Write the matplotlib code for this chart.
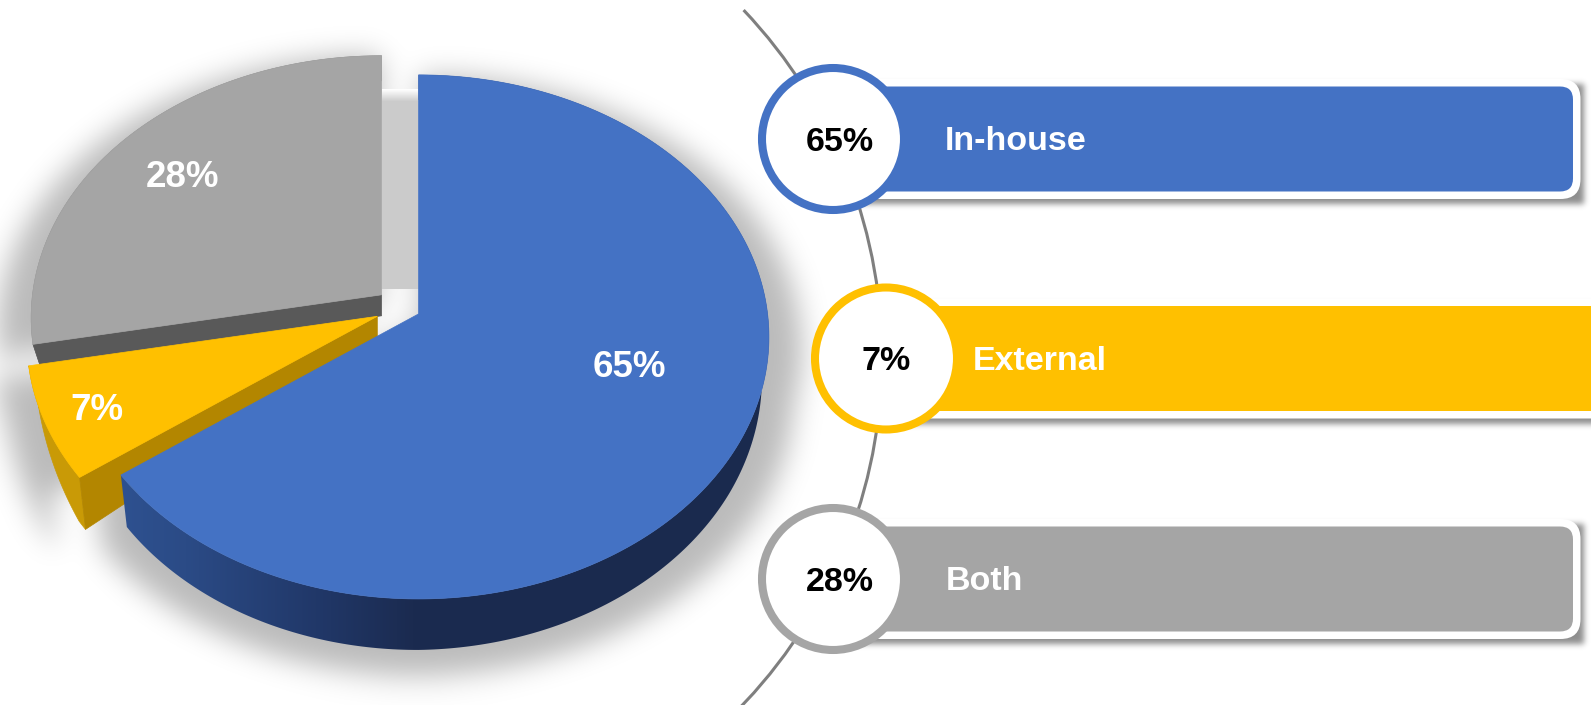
import numpy as np
import matplotlib.pyplot as plt
from matplotlib.patches import Polygon, FancyBboxPatch, Circle, Arc
from matplotlib.path import Path
from matplotlib.colors import LinearSegmentedColormap

plt.rcParams['font.family'] = ['Liberation Sans', 'DejaVu Sans']

# data
labels = ["In-house", "External", "Both"]
shares = [65, 7, 28]
colors = ["#4472C4", "#FFC000", "#A5A5A5"]
rim_colors = [None, "#C99A06", "#8C8C8C"]        # None -> gradient
radial_colors = ["#2F5597", "#B38600", "#595959"]

W, H = 1591, 705
fig = plt.figure(figsize=(W / 100, H / 100), dpi=100)
ax = fig.add_axes([0, 0, 1, 1])
ax.axis('off')

# ---- pie geometry (fake 3d, perspective ellipse) ----
cx0, cy0 = 403, 308
RX, RY, PERSP = 349, 260, 0.0878
VDEPTH = 21
explode = [0.05, 0.08, 0.08]
label_r = [0.624, 0.849, 0.768]
label_shift = [9.3, 0, 0.4]


def proj(c, u, v):
    s = 1.0 / (1.0 + PERSP * v)
    return c[0] + RX * u * s, c[1] - RY * v * s


def rim_depth(phi):
    phi = np.mod(phi, 360)
    return np.interp(phi, [0, 30, 90, 180, 192, 214, 270, 330, 360],
                     [40, 36, 25, 21, 21, 52, 51, 45, 40])


def blur(mask, sigma):
    def kmat(n):
        i = np.arange(n)
        k = np.exp(-0.5 * ((i[:, None] - i[None, :]) / sigma) ** 2)
        return k / k.sum(axis=1, keepdims=True)
    return kmat(mask.shape[0]) @ mask @ kmat(mask.shape[1]).T


def shadow_image(polys, x0, x1, y0, y1, step, sigma, alpha, z):
    xs = np.arange(x0, x1, step) + step / 2
    ys = np.arange(y0, y1, step) + step / 2
    gx, gy = np.meshgrid(xs, ys)
    pts = np.column_stack([gx.ravel(), gy.ravel()])
    m = np.zeros(len(pts))
    for p in polys:
        m = np.maximum(m, Path(p).contains_points(pts))
    m = blur(m.reshape(gx.shape), sigma / step)
    img = np.zeros(gx.shape + (4,))
    img[..., 3] = np.clip(m, 0, 1) * alpha
    ax.imshow(img, extent=(x0, x1, y1, y0), origin='upper',
              interpolation='bilinear', zorder=z)


bounds = []
start = 90.0
for s in shares:
    bounds.append((start, start - 360 * s / 100))
    start -= 360 * s / 100

centers = []
for (a0, a1), e in zip(bounds, explode):
    m = np.radians((a0 + a1) / 2)
    centers.append(proj((cx0, cy0), e * np.cos(m), e * np.sin(m)))

geo = []
for i in range(len(shares)):
    a0, a1 = bounds[i]
    c = centers[i]
    phi = np.linspace(a0, a1, 300)
    tx, ty = proj(c, np.cos(np.radians(phi)), np.sin(np.radians(phi)))
    bx = tx - (tx - c[0]) * 0.02
    by = ty + rim_depth(phi)
    top = np.column_stack([np.r_[c[0], tx], np.r_[c[1], ty]])
    rim = np.column_stack([np.r_[tx, bx[::-1]], np.r_[ty, by[::-1]]])
    faces = []
    if np.cos(np.radians(a0)) < -1e-6:
        faces.append(np.array([c, (tx[0], ty[0]), (bx[0], by[0]), (c[0], c[1] + VDEPTH)]))
    if np.cos(np.radians(a1)) > 1e-6:
        faces.append(np.array([c, (tx[-1], ty[-1]), (bx[-1], by[-1]), (c[0], c[1] + VDEPTH)]))
    geo.append(dict(top=top, rim=rim, faces=faces))

# soft shadow under the pie
sh_polys = []
for g in geo:
    for p in [g['top'], g['rim']]:
        q = p.copy()
        q[:, 0] = cx0 + (q[:, 0] - cx0) * 1.09
        q[:, 1] = 70 + (q[:, 1] - 70) * 1.045
        sh_polys.append(q)
shadow_image(sh_polys, -60, 860, 0, 706, 2, 14, 0.27, 0)

# light back wall in the gap between gray and blue
gx0 = centers[2][0]
gx1 = centers[0][0]
gtop = geo[0]['top'][1:, 1].min() + 14
gap = Polygon([(gx0, gtop), (gx1, gtop), (gx1, centers[0][1] + 20),
               (gx0, centers[1][1] + 25)], closed=True, fc='none', ec='none', zorder=1)
ax.add_patch(gap)
gcm = LinearSegmentedColormap.from_list('g', ['#FFFFFF', '#CBCBCB', '#CBCBCB'])
gim = ax.imshow(np.linspace(0, 1, 200)[:, None], cmap=gcm, extent=(gx0, gx1, gtop + 200, gtop),
                origin='upper', aspect='auto', zorder=1, vmin=0, vmax=0.12)
gim.set_clip_path(gap)

side_cm = LinearSegmentedColormap.from_list(
    'side', [(0, '#2E5190'), (0.1, '#2B4B86'), (0.3, '#213869'),
             (0.45, '#1B2B50'), (1, '#1A2A4E')])

z = 2
for i in [2, 1, 0]:
    g = geo[i]
    if rim_colors[i] is None:
        rp = Polygon(g['rim'], closed=True, fc='none', ec='none', zorder=z)
        ax.add_patch(rp)
        im = ax.imshow(np.linspace(0, 1, 256)[None, :], cmap=side_cm,
                       extent=(120, 770, 700, 0), aspect='auto', zorder=z)
        im.set_clip_path(rp)
    else:
        ax.add_patch(Polygon(g['rim'], closed=True, fc=rim_colors[i],
                             ec=rim_colors[i], lw=0.5, zorder=z))
    for f in g['faces']:
        ax.add_patch(Polygon(f, closed=True, fc=radial_colors[i],
                             ec=radial_colors[i], lw=0.5, zorder=z + 0.5))
    ax.add_patch(Polygon(g['top'], closed=True, fc=colors[i], ec=colors[i],
                         lw=0.5, zorder=z + 1))
    a0, a1 = bounds[i]
    la = np.radians((a0 + a1) / 2 + label_shift[i])
    lx, ly = proj(centers[i], label_r[i] * np.cos(la), label_r[i] * np.sin(la))
    ax.text(lx, ly + 13, f"{shares[i]}%", color='white', fontsize=26.5,
            fontweight='bold', ha='center', va='baseline', zorder=z + 2)
    z += 3

# ---- right side: arc, bars, circles ----
ax.add_patch(Arc((378, 357), 1008, 1008, theta1=-43.5, theta2=46,
                 color='#7F7F7F', lw=2.2, zorder=20))

row_x = [833, 886, 833]
row_y = [139, 358.5, 579]
text_dx = [7, 0, 7]
label_left = [945, 973, 946]
bar_len = 740
bar_h = 105
border = 7.5

bar_shadows = []
for x, y in zip(row_x, row_y):
    x0, x1 = x, x + bar_len
    y0, y1 = y - bar_h / 2, y + bar_h / 2
    bar_shadows.append(np.array([(x0 + 3, y0 - border + 5), (x1 + border + 3, y0 - border + 5),
                                 (x1 + border + 3, y1 + border + 5), (x0 + 3, y1 + border + 5)]))
shadow_image(bar_shadows, 820, 1600, 40, 680, 1, 3, 0.45, 21)

for i, (x, y) in enumerate(zip(row_x, row_y)):
    y0 = y - bar_h / 2
    ax.add_patch(FancyBboxPatch((x - border, y0 - border), bar_len + 2 * border, bar_h + 2 * border,
                                boxstyle="round,pad=0,rounding_size=20",
                                fc='white', ec='none', zorder=22))
    ax.add_patch(FancyBboxPatch((x, y0), bar_len, bar_h,
                                boxstyle="round,pad=0,rounding_size=13",
                                fc=colors[i], ec='none', zorder=23))
    ax.add_patch(Circle((x, y), 71, fc='white', ec=colors[i], lw=5.8, zorder=24))
    ax.text(x + text_dx[i], y + 12, f"{shares[i]}%", color='black', fontsize=24.5,
            fontweight='bold', ha='center', va='baseline', zorder=25)
    ax.text(label_left[i], y + 11, labels[i], color='white', fontsize=24.5,
            fontweight='bold', ha='left', va='baseline', zorder=25)

ax.set_aspect('auto')
ax.set_xlim(0, W)
ax.set_ylim(H, 0)
fig.savefig('out.png', dpi=100)
